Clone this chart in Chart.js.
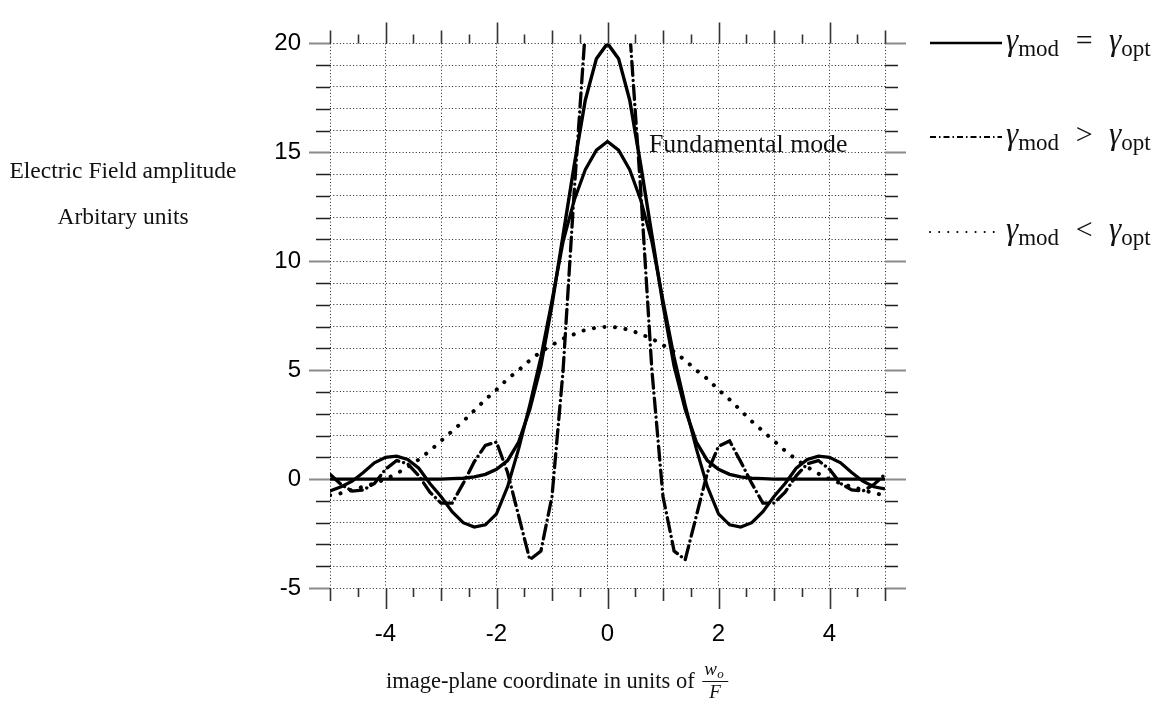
<!DOCTYPE html>
<html>
<head>
<meta charset="utf-8">
<script src="https://cdn.jsdelivr.net/npm/chart.js@4.4.1/dist/chart.umd.min.js"></script>
<style>
  html, body { margin: 0; padding: 0; background: #fff; }
  #wrap { width: 1173px; height: 707px; position: relative; }
</style>
</head>
<body>
<div id="wrap"><canvas id="field-chart" width="1173" height="707"></canvas></div>
<script>
// image-plane coordinate (units of w_o / F)
const X_VALUES = [-5, -4.8, -4.6, -4.4, -4.2, -4, -3.8, -3.6, -3.4, -3.2, -3, -2.8, -2.6, -2.4, -2.2, -2, -1.8, -1.6, -1.4, -1.2, -1, -0.8, -0.6, -0.4, -0.2,
  0, 0.2, 0.4, 0.6, 0.8, 1, 1.2, 1.4, 1.6, 1.8, 2, 2.2, 2.4, 2.6, 2.8, 3, 3.2, 3.4, 3.6, 3.8, 4, 4.2, 4.4, 4.6, 4.8, 5];

// gamma_mod = gamma_opt : fundamental mode (gaussian) and the full field
const OPT_FUNDAMENTAL = [0, 0, 0, 0, 0, 0, 0, 0, 0, 0, 0, 0.02, 0.04, 0.1, 0.22, 0.45, 0.85, 1.7, 3.2, 5.2, 8.0, 11.2, 14.4, 17.4, 19.3,
  20, 19.3, 17.4, 14.4, 11.2, 8.0, 5.2, 3.2, 1.7, 0.85, 0.45, 0.22, 0.1, 0.04, 0.02, 0, 0, 0, 0, 0, 0, 0, 0, 0, 0, 0];
const OPT_FIELD = [-0.55, -0.35, -0.1, 0.3, 0.75, 1.0, 1.05, 0.9, 0.5, -0.2, -0.8, -1.5, -2.0, -2.2, -2.1, -1.6, -0.35, 1.4, 3.4, 5.6, 8.2, 10.9, 12.8, 14.2, 15.1,
  15.5, 15.1, 14.2, 12.8, 10.9, 8.2, 5.6, 3.4, 1.4, -0.35, -1.6, -2.1, -2.2, -2.0, -1.5, -0.8, -0.2, 0.5, 0.9, 1.05, 1.0, 0.75, 0.3, -0.1, -0.35, -0.45];

// gamma_mod > gamma_opt
const MOD_ABOVE = [0.22, -0.25, -0.55, -0.5, -0.2, 0.45, 0.85, 0.7, 0.15, -0.6, -1.1, -1.1, -0.2, 0.8, 1.55, 1.7, 0.3, -1.7, -3.7, -3.3, -0.8, 5.0, 13.2, 20.6, 30,
  33, 30, 20.6, 13.2, 5.0, -0.8, -3.3, -3.7, -1.7, 0.3, 1.5, 1.75, 0.8, -0.2, -1.1, -1.1, -0.6, 0.15, 0.7, 0.85, 0.45, -0.2, -0.5, -0.55, -0.25, 0.22];

// gamma_mod < gamma_opt
const MOD_BELOW = [-0.74, -0.65, -0.5, -0.35, -0.2, 0.0, 0.25, 0.55, 0.9, 1.3, 1.75, 2.2, 2.65, 3.15, 3.65, 4.1, 4.6, 5.0, 5.45, 5.85, 6.15, 6.45, 6.65, 6.85, 6.95,
  7.0, 6.95, 6.85, 6.65, 6.45, 6.15, 5.85, 5.45, 5.0, 4.6, 4.1, 3.65, 3.15, 2.65, 2.2, 1.75, 1.3, 0.9, 0.55, 0.25, 0.0, -0.2, -0.35, -0.5, -0.65, -0.74];

const X_TICK_LABELS = [-4, -2, 0, 2, 4];
const Y_TICK_LABELS = [-5, 0, 5, 10, 15, 20];

const toPoints = (ys) => X_VALUES.map((x, i) => ({ x: x, y: ys[i] }));

const SERIF = '"Liberation Serif", "Times New Roman", serif';
const SANS = '"Liberation Sans", Arial, sans-serif';

// gamma_{mod} op gamma_{opt}, roughly like the LaTeX legend
const drawGammaLabel = (ctx, x, y, op) => {
  ctx.textBaseline = "alphabetic";
  let cx = x;
  const piece = (t, font, dy) => {
    ctx.font = font;
    ctx.textAlign = "left";
    ctx.fillText(t, cx, y + dy);
    cx += ctx.measureText(t).width;
  };
  piece("\u03b3", "italic 31px " + SERIF, 0);
  piece("mod", "23px " + SERIF, 6);
  // operator in its own slot
  ctx.font = "30px " + SERIF;
  ctx.textAlign = "center";
  ctx.fillText(op, cx + 25, y);
  cx += 50;
  piece("\u03b3", "italic 31px " + SERIF, 0);
  piece("opt", "23px " + SERIF, 6);
};

// Tick marks, annotations and the legend
const decorations = {
  id: "decorations",
  afterDraw(chart) {
    const ctx = chart.ctx;
    const xs = chart.scales.x;
    const ys = chart.scales.y;
    const area = chart.chartArea;
    ctx.save();

    // y ticks, both sides
    for (let v = -5; v <= 20; v++) {
      const py = Math.round(ys.getPixelForValue(v)) + 0.5;
      const major = v % 5 === 0;
      ctx.strokeStyle = major ? "#8a8a8a" : "#222";
      ctx.lineWidth = major ? 2.2 : 1.6;
      ctx.beginPath();
      ctx.moveTo(area.left - (major ? 21 : 14), py);
      ctx.lineTo(area.left, py);
      ctx.moveTo(area.right, py);
      ctx.lineTo(area.right + (major ? 21 : 13), py);
      ctx.stroke();
    }

    // x ticks, bottom and top
    for (let k = -10; k <= 10; k++) {
      const v = k / 2;
      const px = Math.round(xs.getPixelForValue(v)) + 0.5;
      let len = 9;
      if (k % 2 === 0) len = (k / 2) % 2 === 0 ? 21 : 13;
      ctx.strokeStyle = "#333";
      ctx.lineWidth = 1.6;
      ctx.beginPath();
      ctx.moveTo(px, area.bottom);
      ctx.lineTo(px, area.bottom + len);
      ctx.moveTo(px, area.top);
      ctx.lineTo(px, area.top - len);
      ctx.stroke();
    }

    ctx.fillStyle = "#111";
    ctx.setLineDash([]);

    // y axis title (horizontal, left)
    ctx.font = "23.5px " + SERIF;
    ctx.textAlign = "center";
    ctx.textBaseline = "middle";
    ctx.fillText("Electric Field amplitude", 123, 172);
    ctx.fillText("Arbitary units", 123, 218);

    // annotation
    ctx.font = "25.8px " + SERIF;
    ctx.textAlign = "left";
    ctx.fillText("Fundamental mode", 649, 145);

    // x axis title with fraction
    ctx.font = "22.5px " + SERIF;
    ctx.textBaseline = "alphabetic";
    const xt = "image-plane coordinate in units of ";
    ctx.fillText(xt, 386, 688);
    const fx = 386 + ctx.measureText(xt).width + 2;
    ctx.font = "italic 19px " + SERIF;
    ctx.fillText("w", fx + 2, 675);
    ctx.font = "italic 13px " + SERIF;
    ctx.fillText("o", fx + 15, 678);
    ctx.strokeStyle = "#111";
    ctx.lineWidth = 1;
    ctx.beginPath();
    ctx.moveTo(fx, 681.5);
    ctx.lineTo(fx + 26, 681.5);
    ctx.stroke();
    ctx.font = "italic 19px " + SERIF;
    ctx.fillText("F", fx + 7, 698);

    // legend
    const entries = [
      { y: 43, op: "=", dash: [], width: 2.5, cap: "butt" },
      { y: 137, op: ">", dash: [6, 3, 1.5, 3], width: 2, cap: "butt" },
      { y: 232, op: "<", dash: [0.1, 9], width: 2, cap: "round" },
    ];
    entries.forEach((e) => {
      ctx.strokeStyle = "#000";
      ctx.lineWidth = e.width;
      ctx.lineCap = e.cap;
      ctx.setLineDash(e.dash);
      ctx.beginPath();
      ctx.moveTo(930, e.y);
      ctx.lineTo(1002, e.y);
      ctx.stroke();
      ctx.setLineDash([]);
      ctx.lineCap = "butt";
      drawGammaLabel(ctx, 1006, e.y + 7, e.op);
    });

    ctx.restore();
  },
};

const ctx = document.getElementById("field-chart").getContext("2d");
new Chart(ctx, {
  type: "line",
  data: {
    datasets: [
      {
        label: "\u03b3mod < \u03b3opt",
        data: toPoints(MOD_BELOW),
        borderColor: "#000",
        borderWidth: 4,
        borderDash: [0.1, 10.5],
        borderCapStyle: "round",
      },
      {
        label: "\u03b3mod > \u03b3opt",
        data: toPoints(MOD_ABOVE),
        borderColor: "#000",
        borderWidth: 3.3,
        borderDash: [14, 5, 0.1, 5],
        borderCapStyle: "round",
      },
      {
        label: "\u03b3mod = \u03b3opt",
        data: toPoints(OPT_FIELD),
        borderColor: "#000",
        borderWidth: 3.2,
      },
      {
        label: "Fundamental mode",
        data: toPoints(OPT_FUNDAMENTAL),
        borderColor: "#000",
        borderWidth: 3.4,
      },
    ],
  },
  options: {
    responsive: false,
    animation: false,
    devicePixelRatio: 1,
    layout: { padding: { left: 270, right: 288, top: 23, bottom: 0 } },
    elements: {
      line: { tension: 0, fill: false },
      point: { radius: 0, hoverRadius: 0 },
    },
    plugins: {
      legend: { display: false },
      tooltip: { enabled: false },
    },
    scales: {
      x: {
        type: "linear",
        min: -5,
        max: 5,
        afterFit: (s) => { s.height = 119; },
        ticks: {
          stepSize: 1,
          autoSkip: false,
          maxRotation: 0,
          padding: 32,
          color: "#000",
          font: { family: SANS, size: 24 },
          callback: (v) => (X_TICK_LABELS.includes(v) ? String(v) : ""),
        },
        grid: { color: "#222", lineWidth: 1, drawTicks: false },
        border: { display: false, dash: [1, 2.3] },
      },
      y: {
        min: -5,
        max: 20,
        afterFit: (s) => { s.width = 60; },
        ticks: {
          stepSize: 1,
          autoSkip: false,
          padding: 29,
          color: "#000",
          font: { family: SANS, size: 24 },
          callback: (v) => (Y_TICK_LABELS.includes(v) ? String(v) : ""),
        },
        grid: { color: "#222", lineWidth: 1, drawTicks: false },
        border: { display: false, dash: [1, 2.3] },
      },
    },
  },
  plugins: [decorations],
});
</script>
</body>
</html>
